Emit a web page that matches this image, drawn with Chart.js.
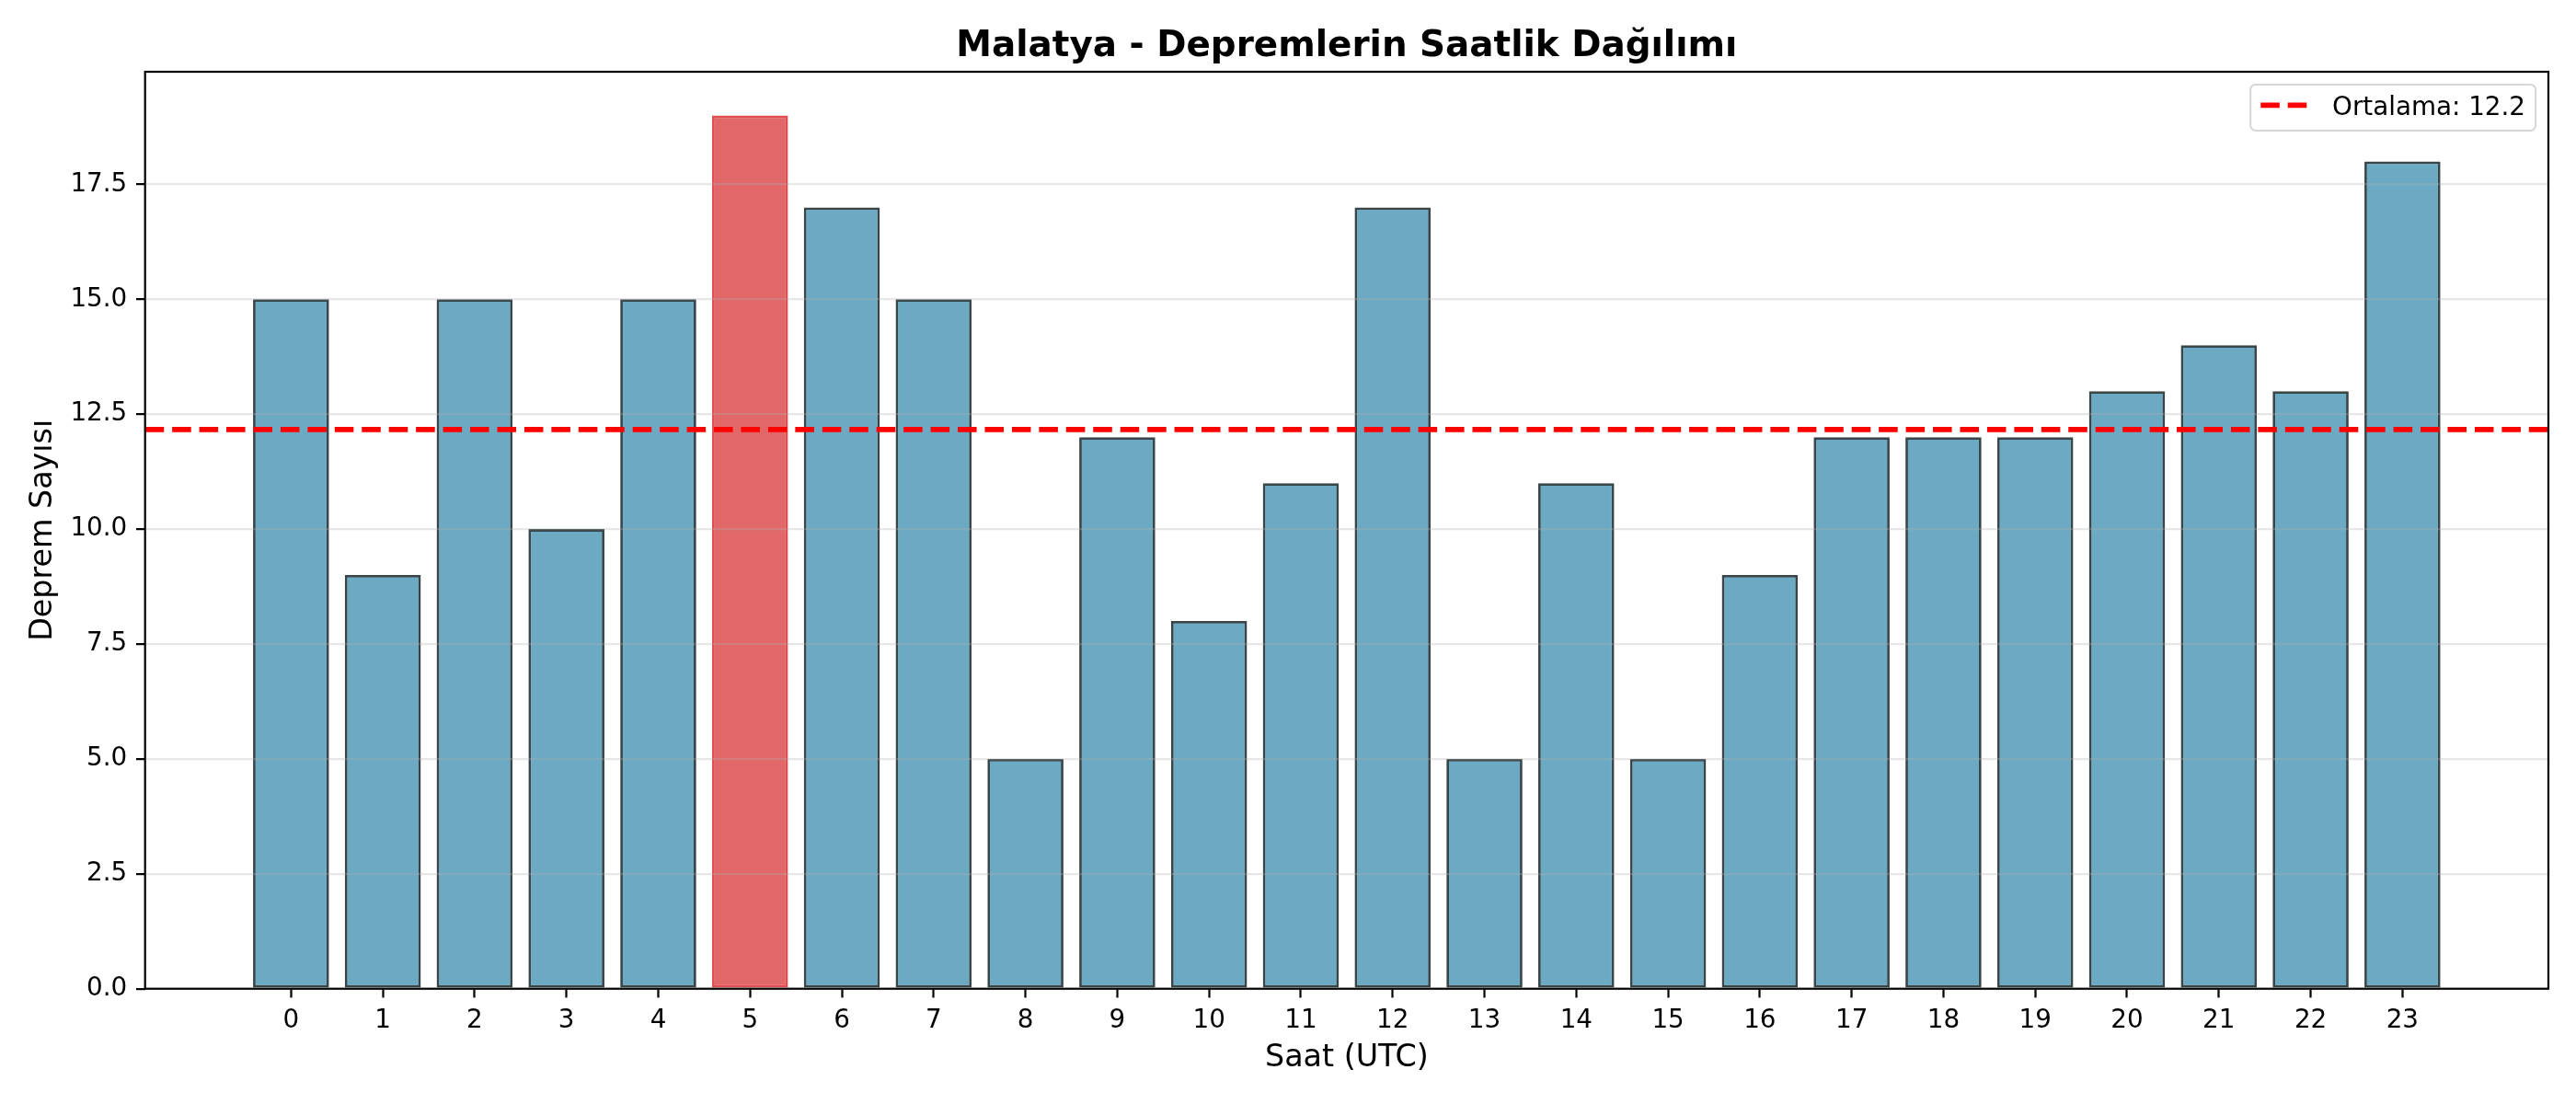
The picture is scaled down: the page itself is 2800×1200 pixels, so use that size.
<!DOCTYPE html>
<html lang="tr">
<head>
<meta charset="utf-8">
<title>Malatya - Depremlerin Saatlik Dağılımı</title>
<script src="https://cdn.jsdelivr.net/npm/chart.js@4/dist/chart.umd.min.js"></script>
<style>
  html, body { margin: 0; padding: 0; background: #fff; }
  #wrap { width: 2800px; height: 1200px; }
</style>
</head>
<body>
<div id="wrap"><canvas id="chart" width="2800" height="1200"></canvas></div>
<script>
// Saatlik deprem sayıları
const hours = [0, 1, 2, 3, 4, 5, 6, 7, 8, 9, 10, 11, 12, 13, 14, 15, 16, 17, 18, 19, 20, 21, 22, 23];
const counts = [15, 9, 15, 10, 15, 19, 17, 15, 5, 12, 8, 11, 17, 5, 11, 5, 9, 12, 12, 12, 13, 14, 13, 18];
const yTicks = [0, 2.5, 5, 7.5, 10, 12.5, 15, 17.5];

const chartTitle = 'Malatya - Depremlerin Saatlik Dağılımı';
const xTitle = 'Saat (UTC)';
const yTitle = 'Deprem Sayısı';

const PT = 200 / 72;              // 1pt -> px (200 dpi)
const FONT = '"DejaVu Sans", "Liberation Sans", sans-serif';
const TITLE_SIZE = 14 * PT, LABEL_SIZE = 12 * PT, TICK_SIZE = 10 * PT;

// ortalama ve en yüksek saat
const mean = counts.reduce((a, b) => a + b, 0) / counts.length;
const maxIdx = counts.indexOf(Math.max(...counts));

// eksen sınırları (bar kenarları + %5 pay)
const halfBar = 0.4;
const xSpan = (hours[hours.length - 1] + halfBar) - (hours[0] - halfBar);
const xMin = hours[0] - halfBar - 0.05 * xSpan;
const xMax = hours[hours.length - 1] + halfBar + 0.05 * xSpan;
const yMax = Math.max(...counts) * 1.05;

const blueFill = 'rgba(46, 134, 171, 0.7)';
const blueEdge = '#384549';
const redFill = 'rgba(214, 39, 40, 0.7)';
const redEdge = '#df5052';

// çizim alanı sınırları (piksel)
const AREA = { left: 157.7, top: 78, right: 2770, bottom: 1074.7 };
const TICK_LEN = 3.5 * PT;

// 'middle' taban çizgisinin alfabetik tabana uzaklığı
function middleShift(size, weight) {
    const c = document.createElement('canvas').getContext('2d');
    c.font = (weight || '') + ' ' + size + 'px ' + FONT;
    c.textBaseline = 'alphabetic';
    const a = c.measureText('H').actualBoundingBoxAscent;
    c.textBaseline = 'middle';
    const m = c.measureText('H').actualBoundingBoxAscent;
    return a - m;
}
const kTitle = middleShift(TITLE_SIZE, 'bold');
const kLabel = middleShift(LABEL_SIZE);
const kTick = middleShift(TICK_SIZE);

// yazıların alfabetik taban konumları (referanstan)
const titlePadTop = 61.3 - kTitle - TITLE_SIZE * 0.6;
const titlePadBottom = AREA.top - titlePadTop - TITLE_SIZE * 1.2;
const xTitlePad = 1200 - (1159.3 - kLabel) - LABEL_SIZE * 0.6;
const yTitlePad = (56 - kLabel) - LABEL_SIZE * 0.6;
const xTickPad = (1117 - kTick) - AREA.bottom - TICK_LEN - TICK_SIZE * 0.6;

// dört kenar çerçevesi
const axesFrame = {
    id: 'axesFrame',
    afterDraw(chart) {
        const { ctx, chartArea: a } = chart;
        ctx.save();
        ctx.lineWidth = 0.8 * PT;
        ctx.strokeStyle = '#000';
        ctx.strokeRect(a.left, a.top, a.right - a.left, a.bottom - a.top);
        ctx.restore();
    }
};

// sağ üst köşedeki lejant kutusu
const legendBox = {
    id: 'legendBox',
    afterDraw(chart) {
        const { ctx, chartArea } = chart;
        const ds = chart.data.datasets[0];
        const fs = TICK_SIZE;
        ctx.save();
        ctx.font = fs + 'px ' + FONT;
        const tw = ctx.measureText(ds.label).width;
        const pad = 0.4 * fs, hl = 2 * fs, tp = 0.8 * fs;
        const w = pad * 2 + hl + tp + tw;
        const h = 1.8 * fs;
        const x = chartArea.right - 0.5 * fs - w;
        const y = chartArea.top + 0.5 * fs;

        ctx.beginPath();
        ctx.roundRect(x, y, w, h, 0.2 * fs);
        ctx.fillStyle = 'rgba(255, 255, 255, 0.8)';
        ctx.fill();
        ctx.lineWidth = 2;
        ctx.strokeStyle = 'rgba(204, 204, 204, 0.8)';
        ctx.stroke();

        const ly = y + pad + 0.41 * fs;
        ctx.beginPath();
        ctx.setLineDash(ds.borderDash);
        ctx.lineWidth = ds.borderWidth;
        ctx.strokeStyle = ds.borderColor;
        ctx.moveTo(x + pad, ly);
        ctx.lineTo(x + pad + hl, ly);
        ctx.stroke();
        ctx.setLineDash([]);

        ctx.fillStyle = '#000';
        ctx.textBaseline = 'alphabetic';
        ctx.textAlign = 'left';
        ctx.fillText(ds.label, x + pad + hl + tp, y + pad + 0.78 * fs);
        ctx.restore();
    }
};

new Chart(document.getElementById('chart'), {
    type: 'bar',
    data: {
        datasets: [
            {
                type: 'line',
                label: 'Ortalama: ' + mean.toFixed(1),
                data: [{ x: xMin, y: mean }, { x: xMax, y: mean }],
                borderColor: 'red',
                borderWidth: 2 * PT,
                borderDash: [3.7 * 2 * PT, 1.6 * 2 * PT],
                pointRadius: 0,
                order: 0
            },
            {
                label: 'Deprem Sayısı',
                data: hours.map((h, i) => ({ x: h, y: counts[i] })),
                backgroundColor: counts.map((_, i) => i === maxIdx ? redFill : blueFill),
                borderColor: counts.map((_, i) => i === maxIdx ? redEdge : blueEdge),
                borderWidth: 1 * PT,
                borderSkipped: false,
                barPercentage: 0.828,
                categoryPercentage: 1,
                order: 1
            }
        ]
    },
    options: {
        responsive: false,
        devicePixelRatio: 1,
        animation: false,
        events: [],
        layout: { padding: { top: 0, right: 2800 - AREA.right, bottom: 0, left: 0 } },
        plugins: {
            legend: { display: false },
            tooltip: { enabled: false },
            title: {
                display: true,
                text: chartTitle,
                fullSize: false,
                color: '#000',
                font: { family: FONT, size: TITLE_SIZE, weight: 'bold', lineHeight: 1.2 },
                padding: { top: titlePadTop, bottom: titlePadBottom }
            }
        },
        scales: {
            x: {
                type: 'linear',
                min: xMin,
                max: xMax,
                offset: false,
                grid: {
                    display: true,
                    offset: false,
                    drawOnChartArea: false,
                    drawTicks: true,
                    tickLength: TICK_LEN,
                    tickWidth: 0.8 * PT,
                    tickColor: '#000'
                },
                border: { display: false },
                ticks: {
                    autoSkip: false,
                    maxRotation: 0,
                    padding: xTickPad,
                    color: '#000',
                    font: { family: FONT, size: TICK_SIZE, lineHeight: 1.2 },
                    callback: v => String(v)
                },
                afterBuildTicks: axis => { axis.ticks = hours.map(v => ({ value: v })); },
                afterFit: axis => { axis.height = 1200 - AREA.bottom; },
                title: {
                    display: true,
                    text: xTitle,
                    color: '#000',
                    font: { family: FONT, size: LABEL_SIZE, lineHeight: 1.2 },
                    padding: { top: 0, bottom: xTitlePad }
                }
            },
            y: {
                min: 0,
                max: yMax,
                grid: {
                    color: 'rgba(176, 176, 176, 0.3)',
                    lineWidth: 0.8 * PT,
                    tickLength: TICK_LEN,
                    tickWidth: 0.8 * PT,
                    tickColor: '#000',
                    z: 1
                },
                border: { display: false },
                ticks: {
                    padding: 3.5 * PT,
                    color: '#000',
                    font: { family: FONT, size: TICK_SIZE },
                    callback: v => v.toFixed(1)
                },
                afterBuildTicks: axis => { axis.ticks = yTicks.map(v => ({ value: v })); },
                afterFit: axis => { axis.width = AREA.left; },
                title: {
                    display: true,
                    text: yTitle,
                    color: '#000',
                    font: { family: FONT, size: LABEL_SIZE, lineHeight: 1.2 },
                    padding: { top: yTitlePad, bottom: 0 }
                }
            }
        }
    },
    plugins: [axesFrame, legendBox]
});
</script>
</body>
</html>
